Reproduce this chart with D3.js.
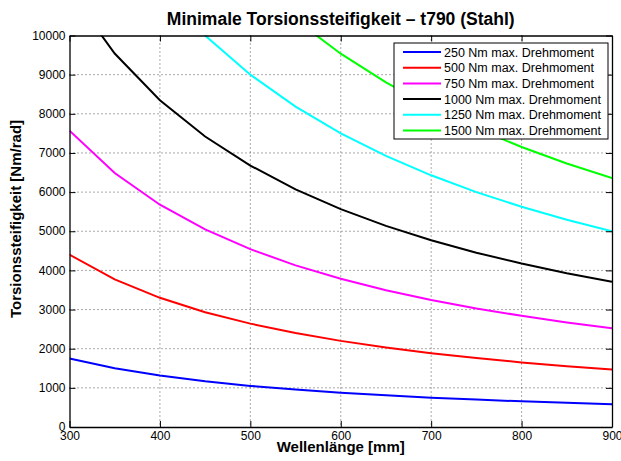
<!DOCTYPE html>
<html>
<head>
<meta charset="utf-8">
<script src="https://cdn.jsdelivr.net/npm/d3@7"></script>
<style>
  body { margin: 0; background: #fff; }
  text { font-family: "Liberation Sans", Arial, Helvetica, sans-serif; }
</style>
</head>
<body>
<div class="chart"></div>
<script>
// Wellenlaenge in mm
var lengths = [300, 350, 400, 450, 500, 550, 600, 650, 700, 750, 800, 850, 900];

// Torsionssteifigkeit in Nm/rad
var k250  = [1750, 1500, 1313, 1167, 1050, 955, 875, 808, 750, 700, 656, 618, 583];
var k500  = [4400, 3771, 3300, 2933, 2640, 2400, 2200, 2031, 1886, 1760, 1650, 1553, 1467];
var k750  = [7570, 6489, 5678, 5047, 4542, 4129, 3785, 3494, 3244, 3028, 2839, 2672, 2523];
var k1000 = [11130, 9540, 8348, 7420, 6678, 6071, 5565, 5137, 4770, 4452, 4174, 3928, 3710];
var k1250 = [15000, 12857, 11250, 10000, 9000, 8182, 7500, 6923, 6429, 6000, 5625, 5294, 5000];
var k1500 = [19070, 16346, 14303, 12713, 11442, 10402, 9535, 8802, 8173, 7628, 7151, 6731, 6357];

var seriesNames = ['250 Nm max. Drehmoment', '500 Nm max. Drehmoment', '750 Nm max. Drehmoment',
                   '1000 Nm max. Drehmoment', '1250 Nm max. Drehmoment', '1500 Nm max. Drehmoment'];
var seriesValues = [k250, k500, k750, k1000, k1250, k1500];
var colors = ['#0000ff', '#ff0000', '#ff00ff', '#000000', '#00ffff', '#00ff00'];

var xTicks = [300, 400, 500, 600, 700, 800, 900];
var yTicks = [0, 1000, 2000, 3000, 4000, 5000, 6000, 7000, 8000, 9000, 10000];

var margin = {top: 35.5, right: 9, bottom: 34, left: 69.5};
var width = 621 - margin.left - margin.right;
var height = 461 - margin.top - margin.bottom;

var svg = d3.select('.chart')
  .append('svg')
	.attr('width', 621)
	.attr('height', 461)
  .append('g')
	.attr('transform', `translate(${margin.left}, ${margin.top})`);

var xScale = d3.scaleLinear().domain([300, 900]).range([0, width]);
var yScale = d3.scaleLinear().domain([0, 10000]).range([height, 0]);

svg.append('clipPath').attr('id', 'plotclip')
  .append('rect').attr('width', width).attr('height', height);

// grid (dotted, matlab style)
svg.append('g')
	.selectAll('line')
	.data(xTicks.slice(1, -1))
	.enter().append('line')
	.attr('x1', d => xScale(d)).attr('x2', d => xScale(d))
	.attr('y1', 0).attr('y2', height)
	.attr('stroke', '#555').attr('stroke-width', 1)
	.attr('stroke-dasharray', '1,3');

svg.append('g')
	.selectAll('line')
	.data(yTicks.slice(1, -1))
	.enter().append('line')
	.attr('x1', 0).attr('x2', width)
	.attr('y1', d => yScale(d)).attr('y2', d => yScale(d))
	.attr('stroke', '#555').attr('stroke-width', 1)
	.attr('stroke-dasharray', '1,3');

// curves
var line = d3.line()
	.x((d, i) => xScale(lengths[i]))
	.y(d => yScale(d));

svg.append('g')
	.attr('clip-path', 'url(#plotclip)')
	.selectAll('path')
	.data(seriesValues)
	.enter().append('path')
	.attr('d', d => line(d))
	.attr('fill', 'none')
	.attr('stroke', (d, i) => colors[i])
	.attr('stroke-width', 2);

// axes, ticks inside
var xAxis = svg.append('g')
	.attr('transform', `translate(0, ${height})`)
	.call(d3.axisBottom(xScale).tickValues(xTicks).tickSizeInner(-6).tickSizeOuter(0).tickFormat(d3.format('d')));
var yAxis = svg.append('g')
	.call(d3.axisLeft(yScale).tickValues(yTicks).tickSizeInner(-6).tickSizeOuter(0).tickFormat(d3.format('d')));
svg.append('g')
	.call(d3.axisTop(xScale).tickValues(xTicks).tickSizeInner(-6).tickSizeOuter(0).tickFormat(''));
svg.append('g')
	.attr('transform', `translate(${width}, 0)`)
	.call(d3.axisRight(yScale).tickValues(yTicks).tickSizeInner(-6).tickSizeOuter(0).tickFormat(''));

svg.selectAll('.domain').attr('stroke', '#000').attr('stroke-width', 1.3);
svg.selectAll('.tick line').attr('stroke', '#000');
svg.selectAll('.tick text')
	.attr('font-family', '"Liberation Sans", Arial, sans-serif')
	.attr('font-size', 12)
	.attr('fill', '#000');
xAxis.selectAll('.tick text').attr('y', 13).attr('dy', 0);
yAxis.selectAll('.tick text').attr('x', -4).attr('dy', '0.3em');

// title and labels
svg.append('text')
	.attr('x', width / 2).attr('y', 25 - margin.top)
	.attr('text-anchor', 'middle')
	.attr('font-size', 17.5).attr('font-weight', 'bold')
	.text('Minimale Torsionssteifigkeit – t790 (Stahl)');

svg.append('text')
	.attr('x', width / 2).attr('y', height + 25)
	.attr('text-anchor', 'middle')
	.attr('font-size', 15).attr('font-weight', 'bold')
	.text('Wellenlänge [mm]');

svg.append('text')
	.attr('transform', `translate(${21 - margin.left}, ${219 - margin.top}) rotate(-90)`)
	.attr('text-anchor', 'middle')
	.attr('font-size', 15).attr('font-weight', 'bold')
	.text('Torsionssteifigkeit [Nm/rad]');

// legend
var legend = svg.append('g')
	.attr('transform', `translate(${394 - margin.left}, ${43 - margin.top})`);

legend.append('rect')
	.attr('width', 214).attr('height', 96)
	.attr('fill', '#fff').attr('stroke', '#000').attr('stroke-width', 1);

var rows = legend.selectAll('g.row')
	.data(seriesNames)
	.enter().append('g')
	.attr('class', 'row')
	.attr('transform', (d, i) => `translate(0, ${9 + i * 15.7})`);

rows.append('line')
	.attr('x1', 9).attr('x2', 47)
	.attr('stroke', (d, i) => colors[i])
	.attr('stroke-width', 2);

rows.append('text')
	.attr('x', 50).attr('dy', '0.36em')
	.attr('font-size', 12.5)
	.text(d => d);
</script>
</body>
</html>
